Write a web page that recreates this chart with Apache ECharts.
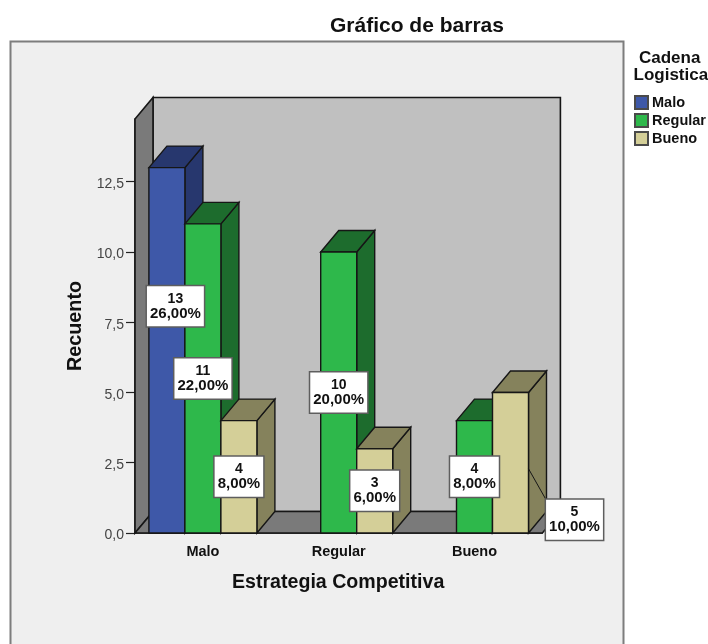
<!DOCTYPE html>
<html>
<head>
<meta charset="utf-8">
<style>html,body{margin:0;padding:0;background:#fff}#chart{width:708px;height:644px}</style>
<script src="https://cdn.jsdelivr.net/npm/echarts@6/dist/echarts.min.js"></script>
</head>
<body>
<div id="chart"></div>
<script>
// Counts per competitive-strategy category, one list per supply-chain rating
const categories = ['Malo', 'Regular', 'Bueno'];
const ratings = ['Malo', 'Regular', 'Bueno'];
const countsMalo = [13, 0, 0];
const countsRegular = [11, 10, 4];
const countsBueno = [4, 3, 5];
const yTicks = [0, 2.5, 5, 7.5, 10, 12.5];

// Appearance of each rating: front face, and the darker top and side faces
const FACE = ['#3e58a8', '#2eb84b', '#d4cf98'];
const SHADE = ['#27376e', '#1d6c2d', '#85825c'];
const INK = '#161616';
const FONT = '"Liberation Sans", Arial, sans-serif';

// Oblique projection used for the box depth
const DEPTH_X = 18;
const DEPTH_Y = 21.5;
const BAR_SHARE = 36 / 135.8;

// Callouts moved away from the middle of their bar: [rating, category, dx, dy]
const labelMoves = [[0, 0, 8.5, -44], [2, 2, 64, 57]];
const leaderFrom = [[2, 2]];

const allCounts = [countsMalo, countsRegular, countsBueno];
const total = allCounts.flat().reduce((a, b) => a + b, 0);
const fmtPct = v => (v / total * 100).toFixed(2).replace('.', ',') + '%';
const fmtTick = v => '{t|' + v.toFixed(1).replace('.', ',') + '}';

function poly(points, fill, lw) {
  return { type: 'polygon', shape: { points },
    style: { fill, stroke: INK, lineWidth: lw || 1.4, lineJoin: 'miter' } };
}

// Back wall, left wall and floor of the 3D box
function renderWalls(params) {
  const c = params.coordSys;
  const l = c.x, r = c.x + c.width, t = c.y, b = c.y + c.height;
  const dx = DEPTH_X, dy = DEPTH_Y;
  return { type: 'group', silent: true, children: [
    poly([[l + dx, t - dy], [r + dx, t - dy], [r + dx, b - dy], [l + dx, b - dy]], '#c0c0c0', 1.6),
    poly([[l, b], [l, t], [l + dx, t - dy], [l + dx, b - dy]], '#7a7a7a', 1.6),
    poly([[l, b], [l + dx, b - dy], [r + dx, b - dy], [r, b]], '#7a7a7a', 1.6)
  ] };
}

function barGeometry(api, slot) {
  const cat = api.value(0), v = api.value(1);
  const w = api.size([1, 0])[0] * BAR_SHARE;
  const base = api.coord([cat, 0]);
  const top = api.coord([cat, v]);
  const left = base[0] + (slot - 1.5) * w;
  return { cat, v, w, left, right: left + w, top: top[1], bottom: base[1] };
}

// One extruded bar: side, top, then front face
function renderBar(slot) {
  return function (params, api) {
    if (!api.value(1)) return null;
    const g = barGeometry(api, slot);
    const dx = DEPTH_X, dy = DEPTH_Y;
    return { type: 'group', children: [
      poly([[g.right, g.bottom], [g.right, g.top], [g.right + dx, g.top - dy], [g.right + dx, g.bottom - dy]], SHADE[slot]),
      poly([[g.left, g.top], [g.left + dx, g.top - dy], [g.right + dx, g.top - dy], [g.right, g.top]], SHADE[slot]),
      poly([[g.left, g.bottom], [g.left, g.top], [g.right, g.top], [g.right, g.bottom]], FACE[slot])
    ] };
  };
}

// White callout with count and percentage, drawn above every bar
function renderCallout(slot) {
  return function (params, api) {
    if (!api.value(1)) return null;
    const g = barGeometry(api, slot);
    const cx = (g.left + g.right) / 2;
    const cy = api.coord([g.cat, g.v / 2])[1];
    const move = labelMoves.find(m => m[0] === slot && m[1] === g.cat);
    const x = cx + (move ? move[2] : 0);
    const y = cy + (move ? move[3] : 0);
    const children = [];
    if (leaderFrom.some(m => m[0] === slot && m[1] === g.cat)) {
      children.push({ type: 'line',
        shape: { x1: g.right, y1: cy + 6, x2: x - 29, y2: y - 21 },
        style: { stroke: INK, lineWidth: 1 } });
    }
    children.push({ type: 'text', style: {
      x, y, align: 'center', verticalAlign: 'middle',
      text: '{n|' + g.v + '}\n{p|' + fmtPct(g.v) + '}',
      backgroundColor: '#ffffff', borderColor: '#5e5e5e', borderWidth: 1.5,
      padding: [5, 3, 5, 3],
      rich: {
        n: { fontFamily: FONT, fontWeight: 'bold', fontSize: 14, fill: '#111', lineHeight: 15, align: 'center' },
        p: { fontFamily: FONT, fontWeight: 'bold', fontSize: 15, fill: '#111', lineHeight: 15, align: 'center' }
      }
    } });
    return { type: 'group', children };
  };
}

const barSeries = ratings.map((name, slot) => ({
  type: 'custom', name, coordinateSystem: 'cartesian2d', clip: false, z: 3,
  renderItem: renderBar(slot),
  encode: { x: 0, y: 1 },
  itemStyle: { color: FACE[slot], borderColor: '#4a4a4a', borderWidth: 1.5 },
  data: allCounts[slot].map((v, i) => [i, v])
}));

const calloutSeries = ratings.map((name, slot) => ({
  type: 'custom', coordinateSystem: 'cartesian2d', clip: false, z: 6, silent: true,
  renderItem: renderCallout(slot),
  encode: { x: 0, y: 1 },
  data: allCounts[slot].map((v, i) => [i, v])
}));

const chart = echarts.init(document.getElementById('chart'), null, { renderer: 'canvas' });
chart.setOption({
  animation: false,
  backgroundColor: '#ffffff',
  textStyle: { fontFamily: FONT },
  graphic: [
    { type: 'rect', z: -10, silent: true,
      shape: { x: 10.5, y: 41.5, width: 613, height: 640 },
      style: { fill: '#efefef', stroke: '#7d7d7d', lineWidth: 2 } },
    { type: 'text', left: 330, top: 15.5, silent: true,
      style: { text: 'Gráfico de barras', fontFamily: FONT, fontWeight: 'bold', fontSize: 21, fill: '#111' } },
    { type: 'text', left: 639, top: 50, silent: true,
      style: { text: 'Cadena', fontFamily: FONT, fontWeight: 'bold', fontSize: 17, fill: '#111' } },
    { type: 'text', left: 633.5, top: 67, silent: true,
      style: { text: 'Logistica', fontFamily: FONT, fontWeight: 'bold', fontSize: 17, fill: '#111' } },
    { type: 'text', left: 232, top: 572.5, silent: true,
      style: { text: 'Estrategia Competitiva', fontFamily: FONT, fontWeight: 'bold', fontSize: 19.6, fill: '#111' } },
    { type: 'text', x: 75.5, y: 326, rotation: Math.PI / 2, silent: true,
      style: { text: 'Recuento', fontFamily: FONT, fontWeight: 'bold', fontSize: 19.8, fill: '#111', align: 'center', verticalAlign: 'middle' } }
  ],
  legend: {
    data: ratings, left: 634, top: 95, orient: 'vertical', padding: 0,
    itemWidth: 13, itemHeight: 13, itemGap: 3, icon: 'rect', selectedMode: false,
    textStyle: { fontFamily: FONT, fontWeight: 'bold', fontSize: 14.5, color: '#111', padding: [0, 0, 0, -1] }
  },
  grid: { left: 135, right: 165.6, top: 119, bottom: 111, containLabel: false },
  xAxis: {
    type: 'category', data: categories,
    axisLine: { lineStyle: { color: INK, width: 1.5 } },
    axisTick: { alignWithLabel: true, length: 9, lineStyle: { color: '#222', width: 1.2 } },
    axisLabel: { margin: 11, fontFamily: FONT, fontWeight: 'bold', fontSize: 14.5, color: '#111' }
  },
  yAxis: {
    type: 'value', min: 0, max: 14.73,
    splitLine: { show: false },
    axisLine: { show: true, lineStyle: { color: INK, width: 1.5 } },
    axisTick: { show: true, length: 9, customValues: yTicks, lineStyle: { color: '#222', width: 1.2 } },
    axisLabel: { margin: 11, customValues: yTicks, formatter: fmtTick,
      rich: { t: { fontFamily: FONT, fontSize: 14, color: '#444', padding: [5, 0, 0, 0] } } }
  },
  series: [
    { type: 'custom', coordinateSystem: 'cartesian2d', clip: false, z: 1, silent: true,
      renderItem: renderWalls, encode: { x: 0, y: 1 }, data: [[0, 0]] },
    ...barSeries,
    ...calloutSeries
  ]
});
</script>
</body>
</html>
